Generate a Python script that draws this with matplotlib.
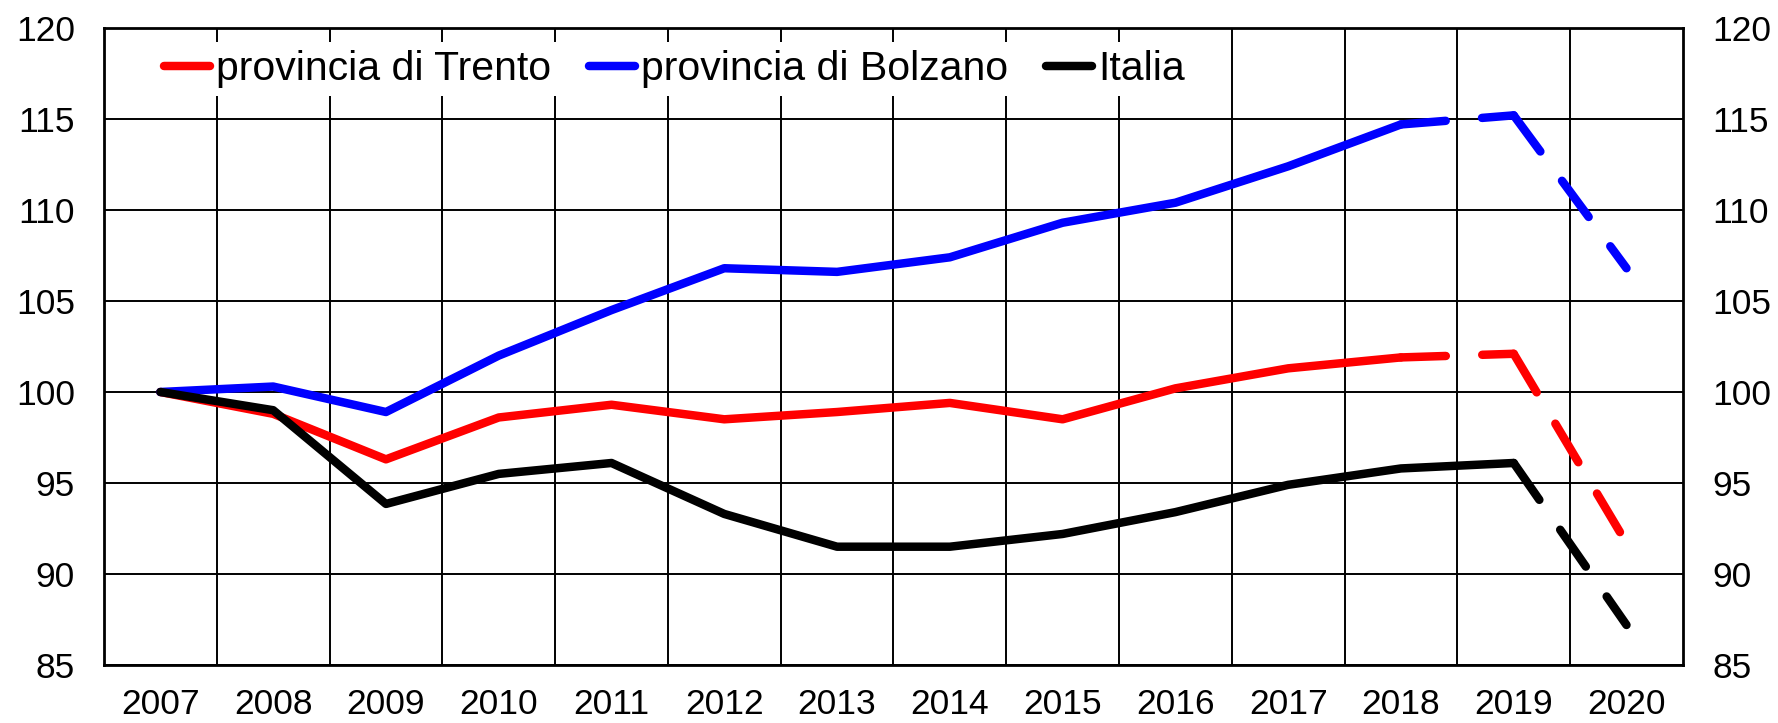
import numpy as np
import matplotlib.pyplot as plt

plt.rcParams['font.family'] = ['Liberation Sans', 'DejaVu Sans']

years = ['2007', '2008', '2009', '2010', '2011', '2012', '2013',
         '2014', '2015', '2016', '2017', '2018', '2019', '2020']
trento = [100, 98.8, 96.3, 98.6, 99.3, 98.5, 98.9, 99.4, 98.5, 100.2, 101.3, 101.9, 102.1, 91.7]
bolzano = [100, 100.3, 98.9, 102.0, 104.5, 106.8, 106.6, 107.4, 109.3, 110.4, 112.4, 114.7, 115.2, 106.8]
italia = [100, 99.0, 93.85, 95.5, 96.1, 93.3, 91.5, 91.5, 92.2, 93.4, 94.9, 95.8, 96.1, 87.2]
y_ticks = [85, 90, 95, 100, 105, 110, 115, 120]

lw = 6.1
dash = (5.3, 4.3)

fig = plt.figure(figsize=(17.78, 7.23), dpi=100)
ax = fig.add_axes([0.0585, 0.0802, 0.888, 0.8811])

x = np.arange(len(years))
# (values, colour, label, index of last solid point)
series = [(trento, '#ff0000', 'provincia di Trento', 11),
          (bolzano, '#0000ff', 'provincia di Bolzano', 11),
          (italia, '#000000', 'Italia', 12)]

for vals, col, lab, last in series:
    ax.plot(x[:last + 1], vals[:last + 1], color=col, lw=lw,
            solid_capstyle='round', solid_joinstyle='round', label=lab, zorder=3)
    # dashed pieces drawn one by one so the dash pattern restarts at each point
    for i in range(last, len(x) - 1):
        ax.plot(x[i:i + 2], vals[i:i + 2], color=col, lw=lw, dashes=dash,
                dash_capstyle='round', zorder=3)

ax.set_xlim(-0.5, len(years) - 0.5)
ax.set_ylim(85, 120)
ax.set_yticks(y_ticks)
ax.set_xticks(x)
ax.set_xticklabels(years)
ax.set_xticks(x[:-1] + 0.5, minor=True)

ax.grid(axis='y', which='major', color='black', lw=1.4)
ax.grid(axis='x', which='minor', color='black', lw=1.4)
ax.tick_params(which='both', length=0, labelsize=25.5)
ax.tick_params(axis='y', labelright=True, pad=21)
ax.tick_params(axis='x', pad=16.5)
for sp in ax.spines.values():
    sp.set_linewidth(2)
    sp.set_color('black')

leg = ax.legend(loc='upper left', bbox_to_anchor=(0.033, 0.978), ncol=3,
                fontsize=29.5, frameon=True, fancybox=False, framealpha=1,
                edgecolor='none', facecolor='white', borderpad=0.2,
                borderaxespad=0, handlelength=1.12, handletextpad=0.15,
                columnspacing=0.92)
leg.set_zorder(5)

plt.savefig('out.png', dpi=100)
